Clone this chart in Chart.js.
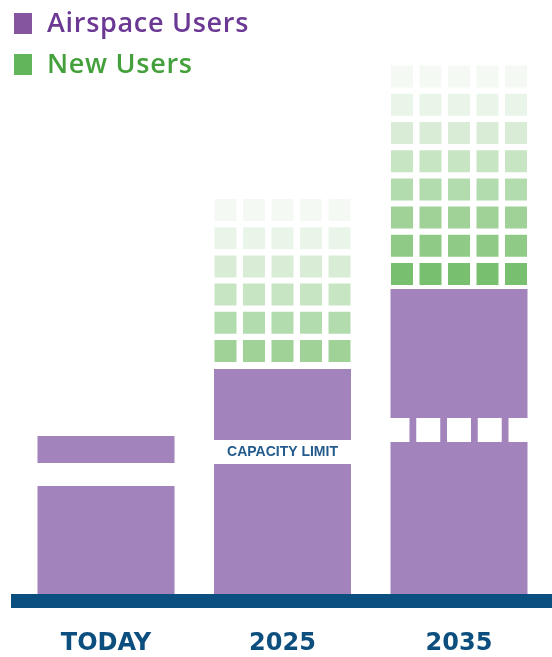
<!DOCTYPE html>
<html>
<head>
<meta charset="utf-8">
<script src="https://cdn.jsdelivr.net/npm/chart.js@4.4.1/dist/chart.umd.min.js"></script>
<style>
html,body{margin:0;padding:0;background:#fff;overflow:hidden}
#wrap{position:relative;width:552px;height:657px}
#c{position:absolute;left:0;top:0}
#legend{position:absolute;left:14px;top:13px;font-family:"Open Sans",sans-serif;font-weight:600;font-size:27px;letter-spacing:0.7px}
.item{display:flex;align-items:center;height:21px;margin-bottom:20px;white-space:nowrap}
.box{width:18px;height:21px;margin-right:15px;flex:none}
.txt{position:relative;top:-2px}
</style>
</head>
<body>
<div id="wrap">
<canvas id="c" width="552" height="657"></canvas>
<div id="legend"></div>
</div>
<script>
// ---- data ----
const categories = ['TODAY', '2025', '2035'];
const usersBelowLimit = [108, 130, 152];     // airspace users up to the capacity line
const limitBand = [23, 24, 24];              // capacity-limit band
const usersAboveLimit = [27, 71, 129];       // airspace users above the band
const limitExceeded = [false, false, true];  // band overrun (filled, dashed)
const newUserRows = [0, 6, 8];               // rows of new-user squares
const newUsersBase = [0, 232, 309];          // level where new users start
const limitLabels = ['', 'CAPACITY LIMIT', ''];
const seriesNames = ['Airspace Users', 'New Users'];

// ---- styling / constants ----
const SQUARE_COLS = 5, ROW_STEP = 28.2, SQUARE_H = 22;
const PURPLE = '#a283bb';
const GREEN_SHADES = ['#f4f9f3','#eaf5e9','#d9edd6','#c7e5c3','#b3dcae','#a0d298','#8fca86','#78c070']; // top -> bottom
const BLUE = '#0b4f80';
const legendStyle = [
  {box: '#85569f', text: '#6b3894'},
  {box: '#63b55b', text: '#43a03b'}
];

const idx = categories.map((_, i) => i);
const bandTop = idx.map(i => usersBelowLimit[i] + limitBand[i]);

const datasets = [];
// white dashes across an overrun capacity band
for (let c = 0; c < SQUARE_COLS; c++) {
  datasets.push({
    label: 'Capacity limit',
    data: idx.map(i => limitExceeded[i] ? [usersBelowLimit[i], bandTop[i]] : null),
    backgroundColor: '#ffffff',
    stack: 'c' + c,
    categoryPercentage: 0.8711,
    barPercentage: 0.7805,
    inflateAmount: 0,
    order: -1
  });
}
const purpleCommon = {backgroundColor: PURPLE, grouped: false, barThickness: 137, inflateAmount: 0};
datasets.push({label: seriesNames[0], data: idx.map(i => [0, usersBelowLimit[i]]), ...purpleCommon});
datasets.push({label: seriesNames[0], data: idx.map(i => limitExceeded[i] ? [usersBelowLimit[i], bandTop[i]] : null), ...purpleCommon});
datasets.push({label: seriesNames[0], data: idx.map(i => [bandTop[i], bandTop[i] + usersAboveLimit[i]]), ...purpleCommon});

const maxRows = Math.max(...newUserRows);
for (let r = 0; r < maxRows; r++) {
  for (let c = 0; c < SQUARE_COLS; c++) {
    datasets.push({
      label: seriesNames[1],
      data: idx.map(i => r < newUserRows[i]
        ? [newUsersBase[i] + r * ROW_STEP, newUsersBase[i] + r * ROW_STEP + SQUARE_H] : null),
      backgroundColor: idx.map(i => GREEN_SHADES[Math.max(0, newUserRows[i] - 1 - r)]),
      stack: 'c' + c,
      categoryPercentage: 0.8074,
      barPercentage: 0.772,
      inflateAmount: 0
    });
  }
}

const limitLabelPlugin = {
  id: 'limitLabel',
  afterDatasetsDraw(chart) {
    const {ctx, scales: {x, y}} = chart;
    ctx.save();
    ctx.font = 'bold 14px "Liberation Sans", Arial, sans-serif';
    ctx.fillStyle = '#245b8c';
    ctx.textAlign = 'center';
    ctx.textBaseline = 'middle';
    limitLabels.forEach((t, i) => {
      if (!t) return;
      ctx.fillText(t, x.getPixelForValue(i), y.getPixelForValue(usersBelowLimit[i] + limitBand[i] / 2));
    });
    ctx.restore();
  }
};

const chart = new Chart(document.getElementById('c'), {
  type: 'bar',
  data: {labels: categories, datasets},
  plugins: [limitLabelPlugin],
  options: {
    responsive: false,
    animation: false,
    events: [],
    layout: {padding: {left: 17.75, right: 4.75, top: 50, bottom: 0}},
    plugins: {legend: {display: false}, tooltip: {enabled: false}},
    scales: {
      x: {
        type: 'category',
        stacked: true,
        offset: true,
        grid: {display: false, drawTicks: false, lineWidth: 10},
        border: {display: true, width: 14, color: BLUE},
        ticks: {color: '#0c4e7e', font: {family: 'DejaVu Sans', weight: 'bold', size: 24}, padding: 28, maxRotation: 0, autoSkip: false},
        afterFit(s) { s.height = 56; }
      },
      y: {type: 'linear', stacked: false, min: -7, max: 544, display: false}
    }
  }
});

// HTML legend built from the series names
const legendEl = document.getElementById('legend');
seriesNames.forEach((name, k) => {
  const item = document.createElement('div');
  item.className = 'item';
  const box = document.createElement('span');
  box.className = 'box';
  box.style.background = legendStyle[k].box;
  const txt = document.createElement('span');
  txt.className = 'txt';
  txt.textContent = name;
  txt.style.color = legendStyle[k].text;
  item.appendChild(box);
  item.appendChild(txt);
  legendEl.appendChild(item);
});
</script>
</body>
</html>
